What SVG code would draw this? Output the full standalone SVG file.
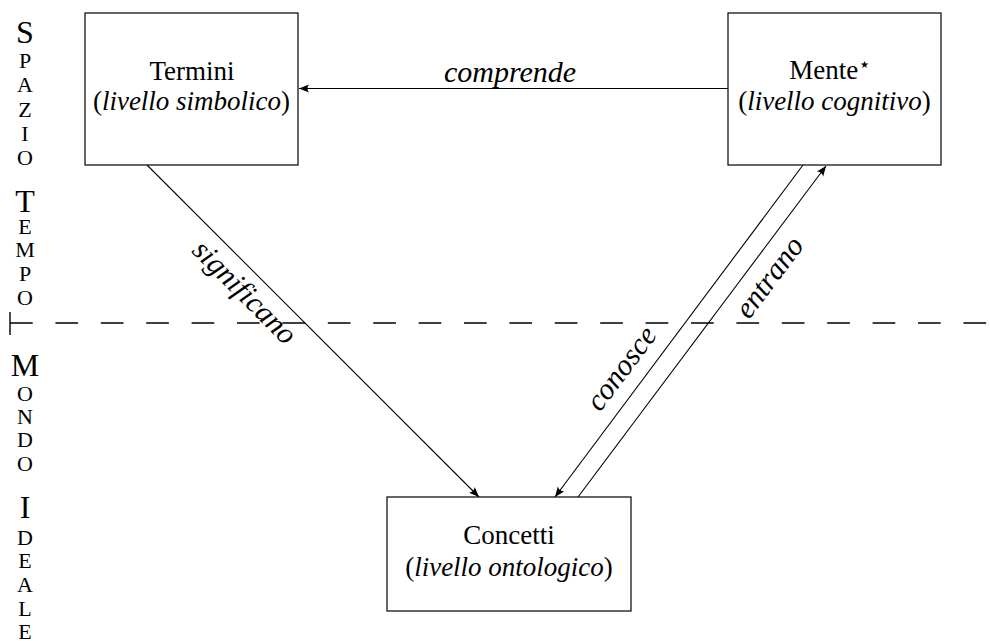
<svg xmlns="http://www.w3.org/2000/svg" width="990" height="641" viewBox="0 0 990 641">
<defs>
<style>
.box{fill:#fff;stroke:#000;stroke-width:1.2}
.t{font-family:"Liberation Serif",serif;font-size:27px;fill:#000;text-anchor:middle}
.it{font-style:italic}
.lbl{font-family:"Liberation Serif",serif;font-style:italic;font-size:30px;fill:#000;text-anchor:middle}
.col{font-family:"Liberation Serif",serif;fill:#000;text-anchor:middle;font-size:22px}
.big{font-size:32px}
.edge{fill:none;stroke:#000;stroke-width:1.1}
</style>
<marker id="ah" viewBox="-11 -5 12 10" refX="0" refY="0" markerWidth="12" markerHeight="10" markerUnits="userSpaceOnUse" orient="auto">
<path d="M0,0 L-10,-4 Q-7,0 -10,4 Z" fill="#000"/>
</marker>
</defs>
<rect width="990" height="641" fill="#fff"/>

<g id="axis">
<line x1="10" y1="323" x2="987" y2="323" stroke="#000" stroke-width="1.4" stroke-dasharray="22.7 22.7"/>
<line x1="10" y1="312" x2="10" y2="335" stroke="#000" stroke-width="1.4"/>
<text class="col"><tspan class="big" x="25" y="43">S</tspan><tspan x="25" y="68">P</tspan><tspan x="25" y="92">A</tspan><tspan x="25" y="117">Z</tspan><tspan x="25" y="141">I</tspan><tspan x="25" y="165">O</tspan></text>
<text class="col"><tspan class="big" x="25" y="212">T</tspan><tspan x="25" y="234">E</tspan><tspan x="25" y="257">M</tspan><tspan x="25" y="281">P</tspan><tspan x="25" y="305">O</tspan></text>
<text class="col"><tspan class="big" x="25" y="376">M</tspan><tspan x="25" y="401">O</tspan><tspan x="25" y="424">N</tspan><tspan x="25" y="447">D</tspan><tspan x="25" y="471">O</tspan></text>
<text class="col"><tspan class="big" x="25" y="518">I</tspan><tspan x="25" y="545">D</tspan><tspan x="25" y="568">E</tspan><tspan x="25" y="592">A</tspan><tspan x="25" y="616">L</tspan><tspan x="25" y="639">E</tspan></text>
</g>

<g id="connectors">
<line class="edge" x1="728" y1="88.5" x2="299" y2="88.5" marker-end="url(#ah)"/>
<line class="edge" x1="147" y1="165" x2="479" y2="497" marker-end="url(#ah)"/>
<line class="edge" x1="803" y1="165" x2="555" y2="497" marker-end="url(#ah)"/>
<line class="edge" x1="578" y1="497" x2="826" y2="166" marker-end="url(#ah)"/>
<text class="lbl" x="510" y="82">comprende</text>
<text class="lbl" transform="translate(238,299) rotate(45)">significano</text>
<text class="lbl" transform="translate(629,374) rotate(-53.2)">conosce</text>
<text class="lbl" transform="translate(777,283) rotate(-53.2)">entrano</text>
</g>

<g id="termini">
<rect class="box" x="85" y="13" width="213" height="152"/>
<text class="t" x="192" y="80">Termini</text>
<text class="t" x="191.5" y="110">(<tspan class="it">livello simbolico</tspan>)</text>
</g>

<g id="mente">
<rect class="box" x="728" y="13" width="213" height="152"/>
<text class="t" x="830" y="79">Mente<tspan font-family="DejaVu Sans" font-size="20" dy="-8">⋆</tspan></text>
<text class="t" x="834.5" y="110">(<tspan class="it">livello cognitivo</tspan>)</text>
</g>

<g id="concetti">
<rect class="box" x="387" y="497" width="244" height="114"/>
<text class="t" x="509" y="544">Concetti</text>
<text class="t" x="509" y="576">(<tspan class="it">livello ontologico</tspan>)</text>
</g>
</svg>
